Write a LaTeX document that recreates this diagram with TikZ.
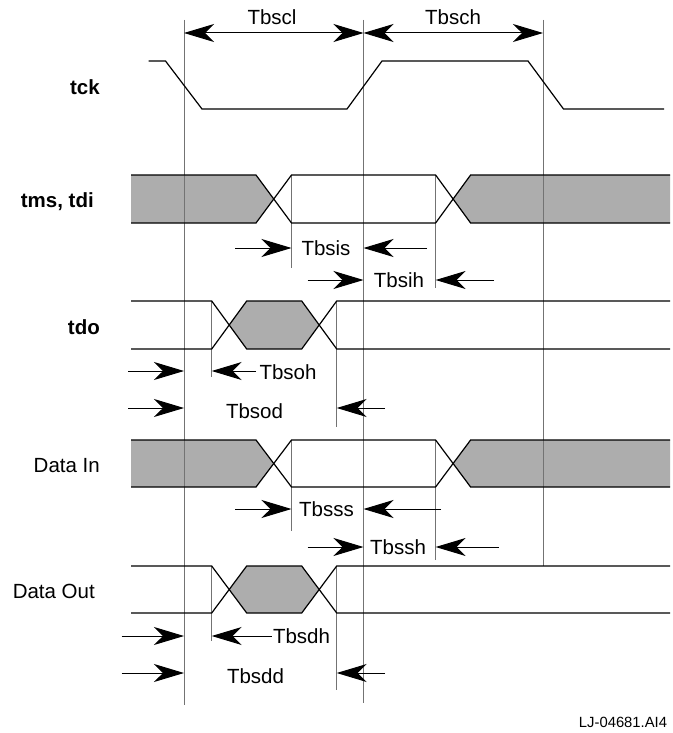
\documentclass[tikz,border=0pt]{standalone}
\usepackage{fontspec}
\setmainfont{Liberation Sans}
\usetikzlibrary{arrows.meta}
\tikzset{bighead/.tip={Stealth[length=30pt,width=18pt,inset=9pt]}}
\begin{document}
\begin{tikzpicture}[x=1pt,y=-1pt,
  sig/.style={line width=1.2pt, line join=miter},
  guide/.style={line width=0.6pt, black!55},
  dimarrow/.style={line width=1pt, -bighead},
  dimboth/.style={line width=1pt, bighead-bighead},
  busfill/.style={fill=black!32},
  lbl/.style={font=\fontsize{20.5}{24}\selectfont, inner sep=0pt, text depth=0pt},
  siglbl/.style={font=\bfseries\fontsize{20.5}{24}\selectfont, inner sep=0pt, anchor=east, text depth=0pt},
  plainlbl/.style={font=\fontsize{20.5}{24}\selectfont, inner sep=0pt, anchor=east, text depth=0pt}]
\fill[white] (0,0) rectangle (672,733);
\useasboundingbox (0,0) rectangle (672,733);

% ---- bus fills ----
% tms, tdi
\fill[busfill] (131,175) -- (256,175) -- (273.7,199) -- (256,223) -- (131,223) -- cycle;
\fill[busfill] (670,175) -- (470.6,175) -- (453.1,199) -- (470.6,223) -- (670,223) -- cycle;
% Data In
\fill[busfill] (131,440) -- (256,440) -- (273.7,463.5) -- (256,487) -- (131,487) -- cycle;
\fill[busfill] (670,440) -- (470.6,440) -- (453.1,463.5) -- (470.6,487) -- (670,487) -- cycle;
% tdo
\fill[busfill] (229.2,325) -- (246.7,301) -- (301.7,301) -- (319.2,325) -- (301.7,349) -- (246.7,349) -- cycle;
% Data Out
\fill[busfill] (229.2,589.5) -- (246.7,566) -- (301.7,566) -- (319.2,589.5) -- (301.7,613) -- (246.7,613) -- cycle;

% ---- guide lines ----
\draw[guide] (184,20) -- (184,705);
\draw[guide] (363.5,20) -- (363.5,703);
\draw[guide] (543,20) -- (543,566);
\draw[guide] (291.5,175) -- (291.5,268);
\draw[guide] (435.6,175) -- (435.6,288);
\draw[guide] (211.7,301) -- (211.7,377);
\draw[guide] (336.7,301) -- (336.7,427);
\draw[guide] (291.5,440) -- (291.5,531);
\draw[guide] (435.6,440) -- (435.6,560);
\draw[guide] (211.7,566) -- (211.7,641);
\draw[guide] (336.7,566) -- (336.7,690);

% ---- signals ----
% tck
\draw[sig] (148.5,61) -- (165.5,61) -- (202,109) -- (347,109) -- (382,61) -- (528,61) -- (563.5,109) -- (664,109);
% tms, tdi
\draw[sig] (131,175) -- (256,175) -- (291.5,223) -- (435.6,223) -- (470.6,175) -- (670,175);
\draw[sig] (131,223) -- (256,223) -- (291.5,175) -- (435.6,175) -- (470.6,223) -- (670,223);
% tdo
\draw[sig] (131,301) -- (211.7,301) -- (246.7,349) -- (301.7,349) -- (336.7,301) -- (670,301);
\draw[sig] (131,349) -- (211.7,349) -- (246.7,301) -- (301.7,301) -- (336.7,349) -- (670,349);
% Data In
\draw[sig] (131,440) -- (256,440) -- (291.5,487) -- (435.6,487) -- (470.6,440) -- (670,440);
\draw[sig] (131,487) -- (256,487) -- (291.5,440) -- (435.6,440) -- (470.6,487) -- (670,487);
% Data Out
\draw[sig] (131,566) -- (211.7,566) -- (246.7,613) -- (301.7,613) -- (336.7,566) -- (670,566);
\draw[sig] (131,613) -- (211.7,613) -- (246.7,566) -- (301.7,566) -- (336.7,613) -- (670,613);

% ---- dimension arrow end points ----
\foreach \n/\x/\y in {clA/184/33, clB/363.5/33, chB/543/33,
  isA/235/248, isB/291.5/248, isC/427/248, isD/363.5/248,
  ihA/307.5/280, ihB/363.5/280, ihC/494/280, ihD/435.6/280,
  ohA/128/371, ohB/184/371, ohC/256/371, ohD/211.7/371,
  odA/128/408, odB/184/408, odC/385/408, odD/336.7/408,
  ssA/235/509, ssB/291.5/509, ssC/441/509, ssD/363.5/509,
  shA/307.5/547, shB/363.5/547, shC/498.6/547, shD/435.6/547,
  dhA/121.7/636, dhB/184/636, dhC/271.7/636, dhD/211.7/636,
  ddA/121.7/673, ddB/184/673, ddC/385/673, ddD/336.7/673}
  \coordinate (\n) at (\x,\y);

\draw[dimboth] (clA) -- (clB);
\draw[dimboth] (clB) -- (chB);
\draw[dimarrow] (isA) -- (isB);
\draw[dimarrow] (isC) -- (isD);
\draw[dimarrow] (ihA) -- (ihB);
\draw[dimarrow] (ihC) -- (ihD);
\draw[dimarrow] (ohA) -- (ohB);
\draw[dimarrow] (ohC) -- (ohD);
\draw[dimarrow] (odA) -- (odB);
\draw[dimarrow] (odC) -- (odD);
\draw[dimarrow] (ssA) -- (ssB);
\draw[dimarrow] (ssC) -- (ssD);
\draw[dimarrow] (shA) -- (shB);
\draw[dimarrow] (shC) -- (shD);
\draw[dimarrow] (dhA) -- (dhB);
\draw[dimarrow] (dhC) -- (dhD);
\draw[dimarrow] (ddA) -- (ddB);
\draw[dimarrow] (ddC) -- (ddD);

% ---- signal labels ----
\node[siglbl] (ltck) at (100,87) {tck};
\node[siglbl] (ltms) at (94,200) {tms, tdi};
\node[siglbl] (ltdo) at (100,327) {tdo};
\node[plainlbl] (ldin) at (100,465) {Data In};
\node[plainlbl] (ldout) at (95,591) {Data Out};

% ---- timing labels ----
\node[lbl] (tscl) at (272,17) {Tbscl};
\node[lbl] (tsch) at (453,17) {Tbsch};
\node[lbl] (tsis) at (326,248) {Tbsis};
\node[lbl] (tsih) at (399,280) {Tbsih};
\node[lbl] (tsoh) at (288,372) {Tbsoh};
\node[lbl] (tsod) at (254.5,411) {Tbsod};
\node[lbl] (tsss) at (326.5,509) {Tbsss};
\node[lbl] (tssh) at (398,547) {Tbssh};
\node[lbl] (tsdh) at (301.5,636.5) {Tbsdh};
\node[lbl] (tsdd) at (255.5,676.5) {Tbsdd};
\node[font=\fontsize{14.8}{17}\selectfont, inner sep=0pt, text depth=0pt] (lj) at (623,722) {LJ-04681.AI4};
\end{tikzpicture}
\end{document}
